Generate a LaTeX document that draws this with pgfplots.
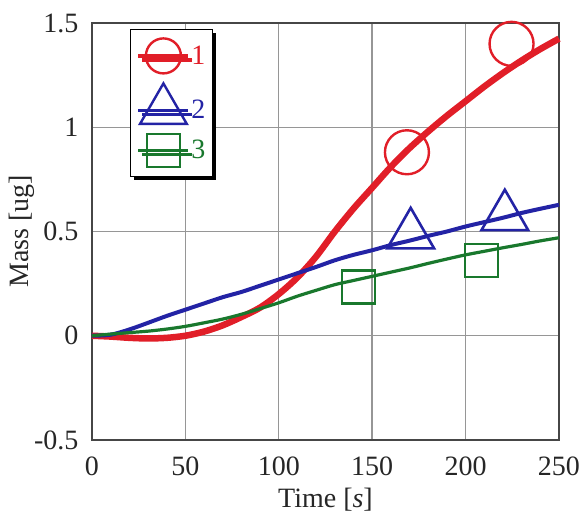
\documentclass[border=0pt]{standalone}
\usepackage{fontspec}
\setmainfont{Liberation Serif}
\usepackage{pgfplots}
\pgfplotsset{compat=1.18}
\usetikzlibrary{shadows}
\definecolor{cred}{RGB}{225,30,40}
\definecolor{cblue}{RGB}{35,35,165}
\definecolor{cgreen}{RGB}{25,120,45}
\definecolor{gridc}{RGB}{150,150,150}
\definecolor{framec}{RGB}{70,70,70}
\begin{document}
\begin{tikzpicture}
\begin{axis}[
  at={(0pt,0pt)}, anchor=south west,
  width=467pt, height=417pt, scale only axis,
  xmin=0, xmax=250, ymin=-0.5, ymax=1.5,
  xtick={0,50,100,150,200,250},
  xticklabels={0,50,100,150,200,250},
  ytick={-0.5,0,0.5,1,1.5},
  yticklabels={-0.5,0,0.5,1,1.5},
  font=\fontsize{28}{30}\selectfont,
  ticklabel style={font=\fontsize{28}{30}\selectfont, text=black!85},
  xticklabel style={yshift=-13pt},
  yticklabel style={xshift=-10pt},
  major tick length=0pt,
  grid=major,
  major grid style={gridc, line width=1.4pt},
  axis line style={framec, line width=1.8pt},
  xlabel={Time [\textit{s}]},
  ylabel={Mass [ug]},
  xlabel style={yshift=-6pt, text=black!85},
  ylabel style={yshift=-7pt, text=black!85},
  clip=false,
  legend style={
    at={(axis description cs:0.0814,0.9856)}, anchor=north west,
    draw=black, line width=0.8pt, fill=white,
    drop shadow={shadow xshift=4pt, shadow yshift=-4pt, fill=black, opacity=1},
    font=\fontsize{28}{30}\selectfont,
    inner xsep=6pt, inner ysep=9pt, row sep=10pt,
    nodes={inner sep=1pt},
  },
  legend cell align=left,
  legend image code/.code={
    \draw[mark repeat=2, mark phase=2] plot coordinates {(0pt,0pt) (25pt,0pt) (50pt,0pt)};
  },
]
% curves
\addplot[cred, line width=6.5pt, smooth, forget plot] coordinates {
(0,0) (10,-0.004) (20,-0.01) (30,-0.013) (40,-0.01) (50,0.0) (60,0.02) (70,0.05)
(80,0.09) (90,0.135) (100,0.20) (110,0.28) (120,0.38) (130,0.50) (140,0.61)
(150,0.71) (160,0.81) (170,0.90) (180,0.98) (190,1.055) (200,1.125) (210,1.195)
(220,1.26) (230,1.32) (240,1.375) (250,1.425)};
\addplot[cblue, line width=4pt, smooth, forget plot] coordinates {
(0,0) (10,0.005) (20,0.03) (30,0.062) (40,0.095) (50,0.125) (60,0.155) (70,0.185)
(80,0.21) (90,0.24) (100,0.27) (110,0.30) (120,0.33) (130,0.362) (140,0.388)
(150,0.41) (160,0.435) (170,0.456) (180,0.479) (190,0.50) (200,0.524) (210,0.545)
(220,0.566) (230,0.589) (240,0.609) (250,0.628)};
\addplot[cgreen, line width=3.2pt, smooth, forget plot] coordinates {
(0,0) (10,0.008) (20,0.015) (30,0.022) (40,0.032) (50,0.045) (60,0.062) (70,0.08)
(80,0.103) (90,0.13) (100,0.158) (110,0.19) (120,0.218) (130,0.245) (140,0.265)
(150,0.285) (160,0.305) (170,0.325) (180,0.347) (190,0.368) (200,0.388) (210,0.405)
(220,0.422) (230,0.438) (240,0.455) (250,0.47)};
% markers
\addplot[only marks, cred, mark=o, mark size=22pt, mark options={line width=2.4pt}, forget plot]
 coordinates {(168.6,0.88) (224.6,1.40)};
\addplot[only marks, cblue, mark=triangle, mark size=27pt, mark options={line width=2.6pt}, forget plot]
 coordinates {(170.6,0.484) (221,0.571)};
\addplot[only marks, cgreen, mark=square, mark size=16.5pt, mark options={line width=2.4pt}, forget plot]
 coordinates {(142.7,0.233) (208.5,0.362)};
% legend
\addlegendimage{cred, line width=4pt, mark=o, mark size=17.5pt, mark options={line width=2.4pt}}
\addlegendentry{\textcolor{cred}{1}}
\addlegendimage{cblue, line width=2.8pt, mark=triangle, mark size=27pt, mark options={line width=2.4pt}}
\addlegendentry{\textcolor{cblue}{2}}
\addlegendimage{cgreen, line width=2.8pt, mark=square, mark size=16.5pt, mark options={line width=2.4pt}}
\addlegendentry{\textcolor{cgreen}{3}}
\end{axis}
\pgfresetboundingbox
\useasboundingbox (-92pt,-73pt) rectangle (490pt,440pt);
\end{tikzpicture}
\end{document}
